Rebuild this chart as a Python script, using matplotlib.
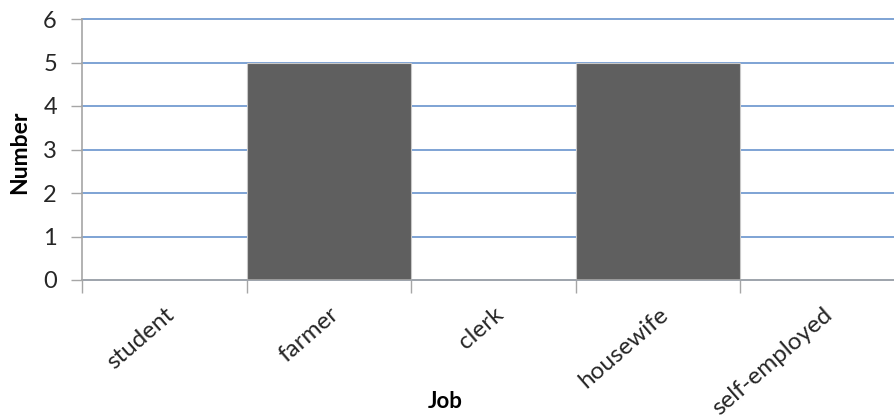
import matplotlib
matplotlib.use("Agg")
import matplotlib.pyplot as plt
import numpy as np

jobs = ["student", "farmer", "clerk", "housewife", "self-employed"]
counts = [0, 5, 0, 5, 0]
y_ticks = [0, 1, 2, 3, 4, 5, 6]

plt.rcParams["font.family"] = ["Lato", "DejaVu Sans"]

fig = plt.figure(figsize=(8.94, 4.17), dpi=100)
W, H = 894, 417
ax = fig.add_axes([82 / W, (H - 280) / H, 823 / W, 261 / H])

x = np.arange(len(jobs))
ax.bar(x, counts, width=1.0, color="#5f5f5f", edgecolor="#c8c8c8",
       linewidth=0.8, zorder=3)

ax.set_xlim(-0.5, len(jobs) - 0.5)
ax.set_ylim(0, 6)

# gridlines
ax.set_yticks(y_ticks)
ax.yaxis.grid(True, color="#5b8ac9", linewidth=1.1, zorder=1)
for gl in ax.get_ygridlines():
    gl.set_clip_on(False)
ax.set_axisbelow(True)

# category boundaries as major ticks, labels on minor ticks at centers
ax.set_xticks(np.arange(len(jobs) + 1) - 0.5)
ax.set_xticklabels([])
ax.set_xticks(x, minor=True)
ax.set_xticklabels(jobs, minor=True, rotation=41, ha="right",
                   rotation_mode="anchor", fontsize=17.5, color="#262626")
ax.tick_params(axis="x", which="major", length=9, width=1, color="#a6a6a6",
               direction="out")
ax.tick_params(axis="x", which="minor", length=0, pad=17)
ax.tick_params(axis="y", length=8, width=1, color="#a6a6a6", labelsize=17,
               labelcolor="#262626", pad=10)

for side in ("top", "right"):
    ax.spines[side].set_visible(False)
for side in ("left", "bottom"):
    ax.spines[side].set_color("#a6a6a6")
    ax.spines[side].set_linewidth(1.2)
ax.spines["bottom"].set_zorder(4)

fig.text(20 / W, 1 - 152 / H, "Number", rotation=90, ha="center",
         va="center", fontsize=16.5, fontweight="bold", color="#000000")
fig.text(445 / W, 1 - 402 / H, "Job", ha="center", va="center",
         fontsize=16, fontweight="bold", color="#000000")

fig.savefig("out.png", dpi=100, facecolor="white")
